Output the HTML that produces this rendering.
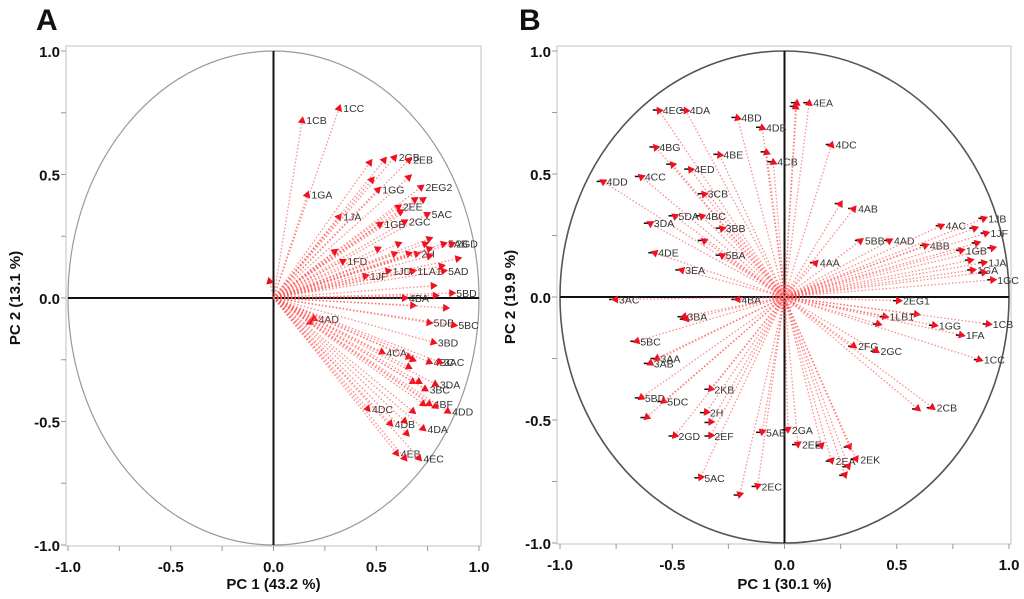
<!DOCTYPE html>
<html><head><meta charset="utf-8"><style>
html,body{margin:0;padding:0;background:#fff;}
svg{display:block;font-family:"Liberation Sans",Arial,sans-serif;}
.tick{font-size:15px;font-weight:bold;fill:#111;}
.ttl{font-size:15px;font-weight:bold;fill:#111;}
.lab{font-size:10.5px;fill:#333;}
</style></head><body>
<svg id="chart" width="1024" height="599" viewBox="0 0 1024 599"></svg>
<script>
const labelsA=["1CC","1CB","1GA","1JA","","","2GB","2EB","","","1GG","2EG2","","","2EE","","5AC","1GB","2GC","","1FD","","","","","2H","","","","5AB","2GD","","","1JF","1JD","1LA1","","5AD","","5BD","","4BA","","","5DB","5BC","3BD","4AD","","4CA","","","","4BC","3AC","","","3BC","3DA","","4BF","","","4DD","4DC","4DB","","","4DA","4EB","","4EC",""];
const xA=[0.32,0.14,0.165,0.32,0.47,0.54,0.59,0.66,0.66,0.48,0.51,0.72,0.69,0.73,0.61,0.62,0.75,0.52,0.64,0.30,0.34,0.51,0.59,0.61,0.66,0.70,0.74,0.76,0.76,0.83,0.87,0.90,0.76,0.45,0.56,0.68,0.82,0.83,0.78,0.87,0.79,0.64,0.68,0.84,0.76,0.88,0.78,0.20,0.18,0.53,0.66,0.68,0.66,0.76,0.81,0.68,0.71,0.74,0.79,0.73,0.76,0.79,0.68,0.85,0.46,0.57,0.64,0.65,0.73,0.60,0.64,0.71,-0.02];
const yA=[0.77,0.72,0.42,0.33,0.55,0.56,0.57,0.56,0.49,0.48,0.44,0.45,0.40,0.40,0.37,0.35,0.34,0.30,0.31,0.19,0.15,0.20,0.18,0.22,0.18,0.18,0.22,0.24,0.17,0.22,0.22,0.16,0.20,0.09,0.11,0.11,0.13,0.11,0.05,0.02,0.01,0.0,-0.03,-0.04,-0.10,-0.11,-0.18,-0.085,-0.10,-0.22,-0.24,-0.25,-0.28,-0.26,-0.26,-0.34,-0.34,-0.37,-0.35,-0.43,-0.43,-0.44,-0.46,-0.46,-0.45,-0.51,-0.50,-0.55,-0.53,-0.63,-0.65,-0.65,0.07];
const labelsB=["4EA","","","4EC","4DA","4BD","4DB","4BG","4BE","","4CB","4DC","","4ED","4CC","4DD","3CB","4AB","","5DA","4BC","3DA","3BB","","5BA","4DE","3EA","4AA","5BB","4AD","4AC","4BB","1JB","","1JF","","","1GB","1JA","","1GA","","1GC","3AC","4BA","2EG1","1LB1","","","1GG","1CB","1FA","1CC","2FG","2GC","3BA","","5BC","3AA","3AB","5BD","5DC","","2KB","2H","","2GD","2EF","5AB","2GA","2EE","","","2EA","2EK","","","5AC","2EC","","2CB",""];
const xB=[0.11,0.055,0.05,-0.56,-0.44,-0.21,-0.10,-0.575,-0.29,-0.08,-0.05,0.21,-0.50,-0.42,-0.64,-0.81,-0.36,0.31,0.25,-0.49,-0.37,-0.60,-0.28,-0.36,-0.28,-0.58,-0.46,0.14,0.34,0.47,0.70,0.63,0.89,0.85,0.90,0.86,0.93,0.79,0.89,0.83,0.84,0.89,0.93,-0.755,-0.21,0.51,0.45,0.59,0.42,0.67,0.91,0.79,0.87,0.31,0.41,-0.45,-0.44,-0.66,-0.57,-0.60,-0.64,-0.54,-0.615,-0.33,-0.35,-0.33,-0.49,-0.33,-0.10,0.015,0.06,0.165,0.29,0.21,0.32,0.285,0.27,-0.375,-0.12,-0.20,0.66,0.595];
const yB=[0.79,0.79,0.775,0.76,0.76,0.73,0.69,0.61,0.58,0.59,0.55,0.62,0.54,0.52,0.49,0.47,0.42,0.36,0.38,0.33,0.33,0.30,0.28,0.23,0.17,0.18,0.11,0.14,0.23,0.23,0.29,0.21,0.32,0.28,0.26,0.22,0.20,0.19,0.14,0.15,0.11,0.10,0.07,-0.01,-0.01,-0.015,-0.08,-0.07,-0.11,-0.115,-0.11,-0.155,-0.255,-0.20,-0.22,-0.08,-0.09,-0.18,-0.25,-0.27,-0.41,-0.425,-0.49,-0.375,-0.47,-0.51,-0.565,-0.565,-0.55,-0.54,-0.60,-0.605,-0.61,-0.667,-0.66,-0.69,-0.725,-0.735,-0.77,-0.805,-0.45,-0.455];
const ticks=[-1.0,-0.5,0.0,0.5,1.0];
const tickLabels=["-1.0","-0.5","0.0","0.5","1.0"];

const NS="http://www.w3.org/2000/svg";
const svg=document.getElementById('chart');
function mk(tag,attrs,parent){const e=document.createElementNS(NS,tag);for(const k in attrs)e.setAttribute(k,attrs[k]);(parent||svg).appendChild(e);return e;}

function panel(cfg){
  const g=mk('g',{});
  
  
  const sx=v=>cfg.x0+(v+1)/2*(cfg.x1-cfg.x0);
  const sy=v=>cfg.y1-(v+1)/2*(cfg.y1-cfg.y0);
  const fr=mk('rect',{x:cfg.fx0,y:cfg.fy0,width:cfg.fx1-cfg.fx0,height:cfg.fy1-cfg.fy0,fill:'none',stroke:'#ccc','stroke-width':1.2},g);
  
  
  const circ=mk('ellipse',{cx:sx(0),cy:sy(0),rx:sx(1)-sx(0),ry:sy(0)-sy(1),fill:'none',stroke:cfg.circ,'stroke-width':cfg.cw},g);
  
  
  const ax1=mk('line',{x1:sx(-1),x2:sx(1),y1:sy(0),y2:sy(0),stroke:'#111','stroke-width':2},g);
  
  
  const ax2=mk('line',{x1:sx(0),x2:sx(0),y1:sy(1),y2:sy(-1),stroke:'#111','stroke-width':2},g);
  
  
  if(cfg.rings){for(let r=3;r<=12;r+=3){const c=mk('circle',{cx:sx(0),cy:sy(0),r:r,fill:'none',stroke:'#ff3030','stroke-width':1,opacity:0.6},g);}}
  for(let i=0;i<ticks.length;i++){
    const t=ticks[i];
    const tx=mk('text',{x:sx(t),y:cfg.fy1+26,'text-anchor':'middle',class:'tick'},g);
    tx.textContent=tickLabels[i];
    
    
    const ty=mk('text',{x:cfg.fx0-6,y:sy(t)+6,'text-anchor':'end',class:'tick'},g);
    ty.textContent=tickLabels[i];
    
    
  }
  for(let t=-1;t<=1.001;t+=0.25){
    mk('line',{x1:sx(t),x2:sx(t),y1:cfg.fy1,y2:cfg.fy1+5,stroke:'#999'},g);
    mk('line',{x1:cfg.fx0-5,x2:cfg.fx0,y1:sy(t),y2:sy(t),stroke:'#999'},g);
  }
  for(let i=0;i<cfg.xs.length;i++){
    const px=sx(cfg.xs[i]),py=sy(cfg.ys[i]);
    const ln=mk('line',{x1:sx(0),y1:sy(0),x2:px,y2:py,stroke:'#ff5a5a','stroke-width':1.3,'stroke-dasharray':'1.5 2',opacity:0.7},g);
    
    
    const ang=Math.atan2(py-sy(0),px-sx(0))*180/Math.PI;
    if(cfg.dash){const d=mk('line',{x1:px-6,x2:px,y1:py,y2:py,stroke:'#111','stroke-width':1.5},g);}
    const tri=mk('polygon',{points:'4,0 -3,-4 -3,4',fill:'#f01020',transform:`translate(${px},${py}) rotate(${ang})`},g);
    
    
    if(cfg.labels[i]){
      const lt=mk('text',{x:px+4,y:py+4,class:'lab'},g);
      lt.textContent=cfg.labels[i];
      
      
    }
  }
  const xt=mk('text',{x:sx(0),y:589,'text-anchor':'middle',class:'ttl'},g);
  xt.textContent=cfg.xt;
  
  
  const yt=mk('text',{x:cfg.ytx,y:sy(0),'text-anchor':'middle',class:'ttl',transform:`rotate(-90 ${cfg.ytx} ${sy(0)})`},g);
  yt.textContent=cfg.yt;
  
  
  const pl=mk('text',{x:cfg.lx,y:30,style:'font-size:30px;font-weight:bold;fill:#111'},g);
  pl.textContent=cfg.letter;
  
  
}
panel({name:'panel-a',x0:68,x1:479,y0:51,y1:545,fx0:66,fx1:481,fy0:46,fy1:546,xs:xA,ys:yA,labels:labelsA,circ:'#999',cw:1.2,rings:false,dash:false,xt:'PC 1  (43.2 %)',yt:'PC 2  (13.1 %)',ytx:20,lx:36,letter:'A'});
panel({name:'panel-b',x0:560,x1:1009,y0:51,y1:543,fx0:557,fx1:1011,fy0:46,fy1:544,xs:xB,ys:yB,labels:labelsB,circ:'#555',cw:1.6,rings:true,dash:true,xt:'PC 1  (30.1 %)',yt:'PC 2 (19.9 %)',ytx:515,lx:519,letter:'B'});
</script>
</body></html>
